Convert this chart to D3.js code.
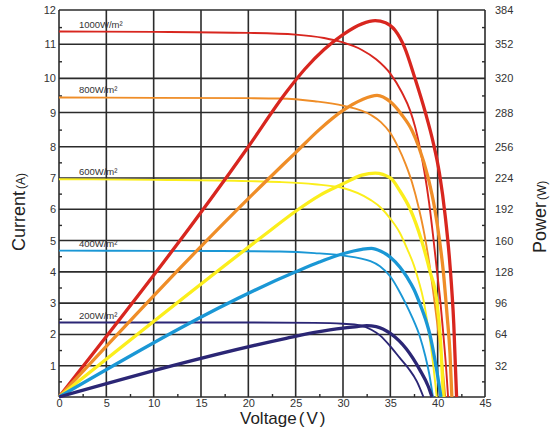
<!DOCTYPE html>
<html>
<head>
<meta charset="utf-8">
<script src="https://cdn.jsdelivr.net/npm/d3@7"></script>
<style>
  body { margin: 0; background: #fff; }
  text { font-family: "Liberation Sans", Arial, sans-serif; }
</style>
</head>
<body>
<div id="chart"></div>
<script>
// tick labels
const voltageTicks = [0, 5, 10, 15, 20, 25, 30, 35, 40, 45];
const currentTicks = [1, 2, 3, 4, 5, 6, 7, 8, 9, 10, 11, 12];
const powerTicks = [32, 64, 96, 128, 160, 192, 224, 256, 288, 320, 352, 384];
const irradiance = ["1000W/m²", "800W/m²", "600W/m²", "400W/m²", "200W/m²"];

// I-V curves, [voltage, current A]
const iv1000 = [[0, 11.37], [10, 11.36], [20, 11.33], [25, 11.28], [28, 11.18], [30, 11.05], [32, 10.83], [33.5, 10.56],
  [35, 10.14], [36.2, 9.6], [37.1, 9.05], [37.6, 8.6], [38.1, 8.0], [38.6, 7.2], [39.1, 6.2], [39.5, 5.2], [39.9, 4.1],
  [40.3, 3.0], [40.6, 2.0], [40.9, 0.9], [41.1, 0]];
const iv800 = [[0, 9.44], [10, 9.43], [20, 9.42], [23.3, 9.41], [27, 9.33], [30, 9.2], [33, 8.92], [34, 8.72], [35, 8.4],
  [35.8, 8.0], [36.6, 7.45], [37.3, 6.85], [38, 6.05], [38.6, 5.2], [39.1, 4.3], [39.6, 3.2], [40.1, 2.0], [40.5, 1.0], [40.8, 0]];
const iv600 = [[0, 6.96], [10, 6.94], [20, 6.9], [23.3, 6.87], [27, 6.8], [30, 6.68], [32.9, 6.3], [34, 6.05], [35, 5.7],
  [36, 5.25], [36.8, 4.72], [37.5, 4.2], [38, 3.7], [38.5, 3.1], [39, 2.2], [39.5, 1.1], [39.9, 0]];
const iv400 = [[0, 4.68], [10, 4.67], [20, 4.66], [23.3, 4.65], [27, 4.6], [30, 4.52], [32.9, 4.34], [33.9, 4.18],
  [35, 3.85], [36, 3.35], [36.6, 3.0], [37.3, 2.55], [38.1, 1.95], [38.7, 1.3], [39.1, 0.75], [39.5, 0]];
const iv200 = [[0, 2.38], [10, 2.38], [20, 2.38], [27, 2.37], [30, 2.34], [31.8, 2.29], [33, 2.15], [33.9, 1.97],
  [35, 1.62], [36, 1.25], [36.9, 0.92], [37.8, 0.5], [38.5, 0]];

// P-V curves, [voltage, power W]
const pv1000 = [[0, 0], [20, 256], [24, 307], [26, 329], [28, 347], [30, 361], [32, 371], [33.4, 374], [34.5, 372],
  [35.5, 365], [36.5, 349], [37.6, 320], [38.7, 288], [39.5, 261], [40.2, 228], [40.8, 185], [41.3, 135], [41.7, 75], [42, 0]];
const pv800 = [[0, 0], [22, 222], [25, 250], [27.5, 272], [30, 290], [32, 300], [33.6, 304], [35, 298], [36.2, 286],
  [37.3, 271], [38, 256], [39, 224], [39.7, 192], [40.2, 160], [40.6, 128], [41, 83], [41.3, 45], [41.5, 0]];
const pv600 = [[0, 0], [22, 168], [25, 190], [27.5, 206], [30, 218], [32, 227], [33.4, 229], [35, 224], [36, 211],
  [37.1, 192], [38.3, 160], [39.2, 128], [39.9, 99], [40.3, 58], [40.6, 0]];
const pv400 = [[0, 0], [25, 128], [27.5, 138], [30, 146.5], [32, 151], [33, 152], [34, 149], [35, 143], [36, 133],
  [36.8, 122], [37.5, 110], [38.1, 96], [38.7, 80], [39.2, 63], [39.8, 33], [40.35, 0]];
const pv200 = [[0, 0], [24, 60], [27, 66], [30, 70.5], [31.5, 72], [32.5, 73], [33.5, 72], [35, 65], [36.7, 49],
  [38.1, 28], [39, 11], [39.4, 0]];

const colors = ["#d8261f", "#ef8d27", "#fbee1c", "#1a97d5", "#2b2675"];
const ivCurves = [iv1000, iv800, iv600, iv400, iv200];
const pvCurves = [pv1000, pv800, pv600, pv400, pv200];

const svg = d3.select("#chart").append("svg")
  .attr("width", 555)
  .attr("height", 427);

// scales (the grid rows in the picture are a little taller above 8 A)
const x = d3.scaleLinear().domain([0, 45]).range([59, 485]);
const yI = d3.scaleLinear().domain([0, 8, 12]).range([397, 146.7, 10]);
const yP = d3.scaleLinear().domain([0, 256, 384]).range([397, 146.7, 10]);

// grid
const grid = svg.append("g").attr("stroke", "#2b2b2b").attr("stroke-width", 1.6);
grid.selectAll(".vline")
  .data(voltageTicks)
  .enter().append("line")
  .attr("x1", d => x(d)).attr("x2", d => x(d))
  .attr("y1", yI(12)).attr("y2", yI(0));
grid.selectAll(".hline")
  .data([0].concat(currentTicks))
  .enter().append("line")
  .attr("x1", x(0)).attr("x2", x(45))
  .attr("y1", d => yI(d)).attr("y2", d => yI(d));

// minor ticks
svg.append("g")
  .attr("class", "minor")
  .attr("transform", `translate(${x(0)},0)`)
  .call(d3.axisLeft(yI).tickValues(d3.range(0.5, 12, 1)).tickSize(-3).tickFormat(""));
svg.append("g")
  .attr("class", "minor")
  .attr("transform", `translate(${x(45)},0)`)
  .call(d3.axisRight(yP).tickValues(d3.range(16, 384, 32)).tickSize(-3).tickFormat(""));
svg.append("g")
  .attr("class", "minor")
  .attr("transform", `translate(0,${yI(0)})`)
  .call(d3.axisBottom(x).tickValues(d3.range(2.5, 45, 5)).tickSize(-3).tickFormat(""));
svg.selectAll(".minor line").attr("stroke", "#2b2b2b").attr("stroke-width", 1.4);

// tick labels
const left = svg.append("g")
  .attr("transform", `translate(${x(0)},0)`)
  .call(d3.axisLeft(yI).tickValues(currentTicks).tickSize(0).tickPadding(3));
const right = svg.append("g")
  .attr("transform", `translate(${x(45)},0)`)
  .call(d3.axisRight(yP).tickValues(powerTicks).tickSize(0).tickPadding(10));
const bottom = svg.append("g")
  .attr("transform", `translate(0,${yI(0)})`)
  .call(d3.axisBottom(x).tickValues(voltageTicks).tickSize(0).tickPadding(2));
svg.selectAll(".domain").remove();
[left, right, bottom].forEach(g => g.selectAll("text")
  .attr("font-family", "Liberation Sans, Arial, sans-serif")
  .attr("font-size", 11)
  .attr("fill", "#333"));

// curves
const ivLine = d3.line().x(d => x(d[0])).y(d => yI(d[1])).curve(d3.curveMonotoneX);
const pvLine = d3.line().x(d => x(d[0])).y(d => yP(d[1])).curve(d3.curveMonotoneX);

svg.append("g").selectAll("path")
  .data(ivCurves)
  .enter().append("path")
  .attr("d", ivLine)
  .attr("fill", "none")
  .attr("stroke", (d, i) => colors[i])
  .attr("stroke-width", 1.9);

svg.append("g").selectAll("path")
  .data(pvCurves)
  .enter().append("path")
  .attr("d", pvLine)
  .attr("fill", "none")
  .attr("stroke", (d, i) => colors[i])
  .attr("stroke-width", 3.3);

// irradiance labels
svg.append("g").selectAll("text")
  .data(irradiance)
  .enter().append("text")
  .attr("x", x(2.1))
  .attr("y", (d, i) => yI(ivCurves[i][0][1]) - 4)
  .attr("font-size", 9.5)
  .attr("fill", "#333")
  .text(d => d);

// axis titles
const volt = svg.append("text")
  .attr("x", 240)
  .attr("y", 424)
  .attr("font-size", 17)
  .attr("fill", "#222");
volt.append("tspan").text("Voltage");
volt.append("tspan").attr("dx", 2).text("(");
volt.append("tspan").attr("dx", 2).text("V");
volt.append("tspan").attr("dx", 2).text(")");

const cur = svg.append("text")
  .attr("transform", "translate(25,251) rotate(-90)")
  .attr("font-size", 18)
  .attr("fill", "#222");
cur.append("tspan").text("Current");
cur.append("tspan").attr("font-size", 12).attr("dx", 2).text("(A)");

const pow = svg.append("text")
  .attr("transform", "translate(546,253) rotate(-90)")
  .attr("font-size", 18)
  .attr("fill", "#222");
pow.append("tspan").text("Power");
pow.append("tspan").attr("font-size", 12).attr("dx", 2).text("(W)");
</script>
</body>
</html>
